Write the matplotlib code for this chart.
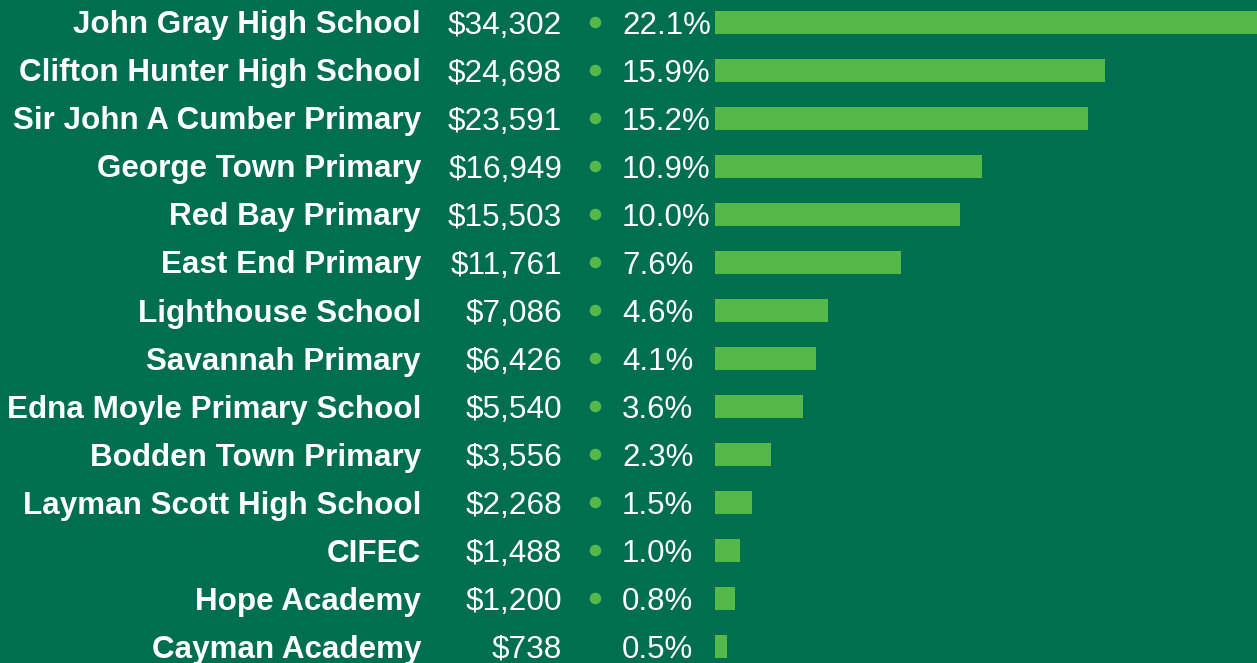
import numpy as np
import matplotlib.pyplot as plt
import matplotlib.transforms as mtransforms

# ── data ──────────────────────────────────────────────────────────────────
schools = [
    "John Gray High School", "Clifton Hunter High School",
    "Sir John A Cumber Primary", "George Town Primary", "Red Bay Primary",
    "East End Primary", "Lighthouse School", "Savannah Primary",
    "Edna Moyle Primary School", "Bodden Town Primary",
    "Layman Scott High School", "CIFEC", "Hope Academy", "Cayman Academy",
]
amounts = [34302, 24698, 23591, 16949, 15503, 11761, 7086,
           6426, 5540, 3556, 2268, 1488, 1200, 738]
shares = [22.1, 15.9, 15.2, 10.9, 10.0, 7.6, 4.6,
          4.1, 3.6, 2.3, 1.5, 1.0, 0.8, 0.5]
show_dot = [True] * 13 + [False]

BG = "#006E50"
BAR = "#57B84A"
W, H = 1257, 663

fig = plt.figure(figsize=(W / 100, H / 100), dpi=100, facecolor=BG)

# bars live in an axes that starts where the bars start
ax = fig.add_axes([715 / W, 0, (W - 715) / W, 1])
ax.set_facecolor(BG)
ax.set_axis_off()

rows = np.arange(len(schools))
row_px = 48
ax.set_xlim(0, max(shares))
ax.set_ylim((H - 22) / row_px, -22 / row_px)
ax.barh(rows, shares, height=23 / row_px, color=BAR, linewidth=0)

# text columns: x in figure fraction, y in row units
tr = mtransforms.blended_transform_factory(fig.transFigure, ax.transData)
base = 11.5 / row_px   # baseline sits below the row centre

for i, (name, amt, pct) in enumerate(zip(schools, amounts, shares)):
    ax.text(421 / W, i + base, name, transform=tr, ha="right", va="baseline",
            color="white", fontsize=22.6, fontweight="bold",
            family="Liberation Sans", clip_on=False)
    ax.text(562 / W, i + base, f"${amt:,}", transform=tr, ha="right",
            va="baseline", color="white", fontsize=22.7,
            family="Liberation Sans", clip_on=False)
    ax.text(622 / W, i + base, f"{pct:.1f}%", transform=tr, ha="left",
            va="baseline", color="white", fontsize=22.5,
            family="Liberation Sans", clip_on=False)

dot_rows = [r for r, s in zip(rows, show_dot) if s]
ax.scatter([595 / W] * len(dot_rows), dot_rows, transform=tr, s=70,
           color=BAR, linewidths=0, clip_on=False)

fig.savefig("out.png", dpi=100, facecolor=BG)
